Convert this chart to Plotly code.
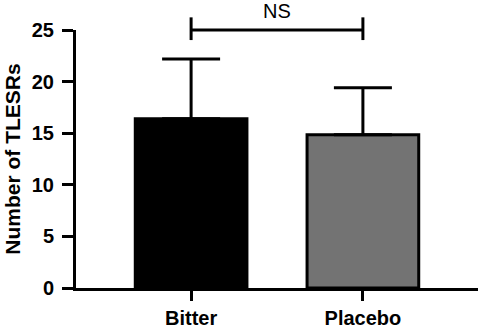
import plotly.graph_objects as go

categories = ["Bitter", "Placebo"]
means = [16.4, 14.85]
sem = [5.8, 4.55]
bar_colors = ["#000000", "#737373"]
y_ticks = [0, 5, 10, 15, 20, 25]
sig_label = "NS"
y_title = "Number of TLESRs"

FONT = "Liberation Sans, Arial, sans-serif"

fig = go.Figure()
fig.add_trace(go.Bar(
    x=[0, 1], y=means, width=0.65,
    marker=dict(color=bar_colors, line=dict(color="black", width=3)),
    error_y=dict(type="data", symmetric=False, array=sem, arrayminus=[0, 0],
                 color="black", thickness=3, width=29),
))

# significance bracket
fig.add_shape(type="line", xref="x", yref="paper", x0=0, x1=1, y0=1.0, y1=1.0,
              line=dict(color="black", width=3))
for xv in [0, 1]:
    fig.add_shape(type="line", xref="x", yref="paper", x0=xv, x1=xv, y0=0.961, y1=1.049,
                  line=dict(color="black", width=3))
fig.add_annotation(x=0.5, xref="x", y=1.075, yref="paper", text=sig_label, showarrow=False,
                   font=dict(family=FONT, size=20, color="black"), yanchor="middle")
fig.add_annotation(x=-0.16, xref="paper", y=0.5, yref="paper", text=y_title, showarrow=False,
                   textangle=-90, font=dict(family=FONT, size=21, color="black", weight="bold"),
                   xanchor="center", yanchor="middle")

fig.update_layout(
    width=480, height=331,
    margin=dict(l=76, r=2, t=30, b=34),
    paper_bgcolor="white", plot_bgcolor="white",
    showlegend=False,
    xaxis=dict(range=[-0.67, 1.67], tickmode="array", tickvals=[0, 1], ticktext=categories,
               showline=True, linecolor="black", linewidth=3, ticks="outside", ticklen=10,
               tickwidth=3, tickcolor="black", showgrid=False, zeroline=False,
               tickfont=dict(family=FONT, size=20, color="black", weight="bold")),
    yaxis=dict(range=[0, 25], tickmode="array", tickvals=y_ticks,
               showline=True, linecolor="black", linewidth=3, ticks="outside", ticklen=11,
               tickwidth=3, tickcolor="black", showgrid=False, zeroline=False,
               ticklabelstandoff=4,
               tickfont=dict(family=FONT, size=20, color="black", weight="bold")),
)

fig.write_html("out.html")
